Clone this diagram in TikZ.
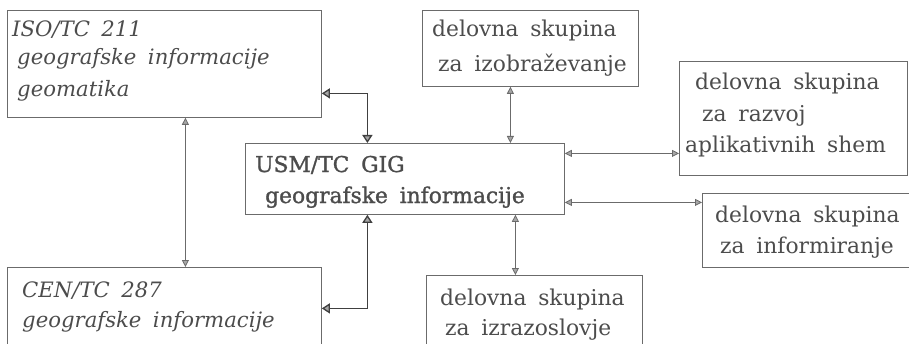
\documentclass[tikz,border=0pt]{standalone}
\usepackage{fontspec}
\setmainfont{DejaVu Serif}[WordSpace=1.7]
\newfontfamily\usmfont{DejaVu Serif}[FakeBold=1.2,WordSpace=1.7]
\usetikzlibrary{arrows.meta}
\definecolor{ink}{gray}{0.3}
\definecolor{frame}{gray}{0.42}
\begin{document}
\begin{tikzpicture}[x=1pt,y=1pt,
  box/.style={draw=frame,line width=0.8pt,rectangle,inner sep=0pt,anchor=north west},
  txt/.style={anchor=base west,inner sep=0pt,text=ink,font=\fontsize{21.8}{25}\selectfont},
  itxt/.style={txt,font=\fontsize{21.2}{25}\selectfont\itshape},
  btxt/.style={txt,font=\fontsize{21.8}{25}\selectfont\usmfont},
  thin/.style={draw=frame,line width=0.8pt,{Triangle[length=7pt,width=7pt,fill=black!35]}-{Triangle[length=7pt,width=7pt,fill=black!35]}},
  thick/.style={draw=black!75,line width=1.3pt,{Triangle[length=8pt,width=10pt,fill=black!35]}-{Triangle[length=8pt,width=10pt,fill=black!35]}}
]
\useasboundingbox (0,0) rectangle (909,343);
% boxes
\node[box,minimum width=314pt,minimum height=107pt] (iso) at (7,333) {};
\node[box,minimum width=314pt,minimum height=93pt] (cen) at (7,76) {};
\node[box,minimum width=319pt,minimum height=71pt] (usm) at (245,200) {};
\node[box,minimum width=216pt,minimum height=76pt] (izob) at (422,333) {};
\node[box,minimum width=228pt,minimum height=114pt] (razv) at (679,282) {};
\node[box,minimum width=213pt,minimum height=74pt] (info) at (702,150) {};
\node[box,minimum width=216pt,minimum height=85pt] (izraz) at (426,68) {};
% texts
\node[itxt] (t1) at (12,306) {ISO/TC 211};
\node[itxt] (t2) at (17,278) {geografske informacije};
\node[itxt] (t3) at (17,246) {geomatika};
\node[itxt] (t4) at (22,46) {CEN/TC 287};
\node[itxt] (t5) at (22,16) {geografske informacije};
\node[btxt] (t6) at (255,171) {USM/TC GIG};
\node[btxt] (t7) at (265,140) {geografske informacije};
\node[txt] (t8) at (432,306) {delovna skupina};
\node[txt] (t9) at (438,271) {za izobraževanje};
\node[txt] (t10) at (695,253) {delovna skupina};
\node[txt] (t11) at (702,221) {za razvoj};
\node[txt] (t12) at (685,190) {aplikativnih shem};
\node[txt] (t13) at (715,121) {delovna skupina};
\node[txt] (t14) at (720,90) {za informiranje};
\node[txt] (t15) at (440,38) {delovna skupina};
\node[txt] (t16) at (445,8) {za izrazoslovje};
% connectors
\draw[thick] ([yshift=-29.5pt]iso.east) -| ([xshift=-37.5pt]usm.north);
\draw[thick] ([xshift=-37.5pt]usm.south) |- ([yshift=5.5pt]cen.east);
\draw[thin] ([xshift=21pt]iso.south) -- ([xshift=21pt]cen.north);
\draw[thin] ([xshift=-20pt]izob.south) -- ([xshift=-20pt]izob.south |- usm.north);
\draw[thin] ([yshift=25.5pt]usm.east) -- ([yshift=25.5pt]usm.east -| razv.west);
\draw[thin] ([yshift=-23.5pt]usm.east) -- ([yshift=-23.5pt]usm.east -| info.west);
\draw[thin] ([xshift=-19pt]izraz.north) -- ([xshift=-19pt]izraz.north |- usm.south);
\end{tikzpicture}
\end{document}
